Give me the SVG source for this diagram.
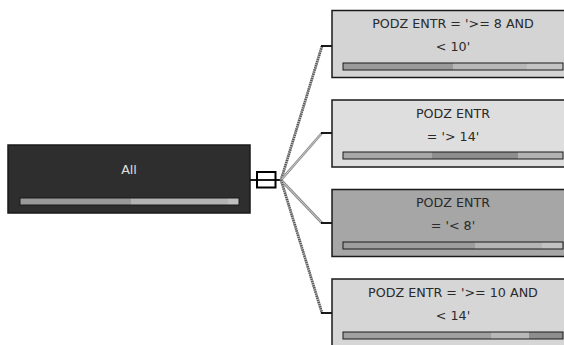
<svg xmlns="http://www.w3.org/2000/svg" width="564" height="345" viewBox="0 0 564 345">
<style>
.box{stroke:#1a1a1a;stroke-width:1.5}
.bar{stroke:#1a1a1a;stroke-width:1;fill:none}
.t{font-family:"DejaVu Sans","Liberation Sans",sans-serif;font-size:12.7px;text-anchor:middle;fill:#2a2a2a}
.hatch{fill:none;stroke:#555;stroke-width:2.6;stroke-dasharray:1.2 1}
.hatchbg{fill:none;stroke:#bbb;stroke-width:2.6}
.gray{fill:none;stroke:#8a8a8a;stroke-width:2.6}
.grayin{fill:none;stroke:#d0d0d0;stroke-width:1}
.stub{fill:none;stroke:#000;stroke-width:1.8}
</style>
<rect width="564" height="345" fill="#fff"/>
<g id="connectors">
<line x1="250" y1="180" x2="257" y2="180" class="stub"/>
<rect x="257" y="172" width="18.5" height="15.5" fill="#fff" stroke="#000" stroke-width="2"/>
<line x1="258" y1="180" x2="281" y2="180" class="stub" stroke-width="2.2"/>
<path d="M281,180 L322,46" class="hatchbg"/>
<path d="M281,180 L322,46" class="hatch"/>
<path d="M281,180 L322,133" class="gray"/>
<path d="M281,180 L322,133" class="grayin"/>
<path d="M281,180 L322,223" class="gray"/>
<path d="M281,180 L322,223" class="grayin"/>
<path d="M281,180 L322,313" class="hatchbg"/>
<path d="M281,180 L322,313" class="hatch"/>
<path d="M321,46 H333" class="stub"/>
<path d="M321,133 H333" class="stub"/>
<path d="M321,223 H333" class="stub"/>
<path d="M321,313 H333" class="stub"/>
</g>
<g id="root">
<rect x="8" y="145" width="242" height="68" fill="#2e2e2e" class="box"/>
<text x="129" y="174" class="t" style="fill:#e0e0e0">All</text>
<rect x="20" y="198" width="111" height="7" fill="#9a9a9a"/>
<rect x="131" y="198" width="97" height="7" fill="#b3b3b3"/>
<rect x="228" y="198" width="11" height="7" fill="#bfbfbf"/>
<rect x="20" y="198" width="219" height="7" class="bar"/>
</g>
<g id="n1">
<rect x="332" y="10.5" width="242" height="67" fill="#d4d4d4" class="box"/>
<text x="453" y="28" class="t">PODZ ENTR = '&gt;= 8 AND</text>
<text x="453" y="51" class="t">&lt; 10'</text>
<rect x="343" y="63" width="110" height="7" fill="#9a9a9a"/>
<rect x="453" y="63" width="74" height="7" fill="#b8b8b8"/>
<rect x="527" y="63" width="36" height="7" fill="#c4c4c4"/>
<rect x="343" y="63" width="220" height="7" class="bar"/>
</g>
<g id="n2">
<rect x="332" y="100" width="242" height="67" fill="#dedede" class="box"/>
<text x="453" y="117.5" class="t">PODZ ENTR</text>
<text x="453" y="140.5" class="t">= '&gt; 14'</text>
<rect x="343" y="152" width="89" height="7" fill="#a8a8a8"/>
<rect x="432" y="152" width="86" height="7" fill="#8e8e8e"/>
<rect x="518" y="152" width="45" height="7" fill="#b3b3b3"/>
<rect x="343" y="152" width="220" height="7" class="bar"/>
</g>
<g id="n3">
<rect x="332" y="189.5" width="242" height="67" fill="#a6a6a6" class="box"/>
<text x="453" y="207" class="t">PODZ ENTR</text>
<text x="453" y="230" class="t">= '&lt; 8'</text>
<rect x="343" y="242" width="132" height="7" fill="#9e9e9e"/>
<rect x="475" y="242" width="67" height="7" fill="#b5b5b5"/>
<rect x="542" y="242" width="21" height="7" fill="#c2c2c2"/>
<rect x="343" y="242" width="220" height="7" class="bar"/>
</g>
<g id="n4">
<rect x="332" y="279" width="242" height="67" fill="#d6d6d6" class="box"/>
<text x="453" y="296.5" class="t">PODZ ENTR = '&gt;= 10 AND</text>
<text x="453" y="319.5" class="t">&lt; 14'</text>
<rect x="343" y="332" width="148" height="7" fill="#a0a0a0"/>
<rect x="491" y="332" width="38" height="7" fill="#b8b8b8"/>
<rect x="529" y="332" width="34" height="7" fill="#8e8e8e"/>
<rect x="343" y="332" width="220" height="7" class="bar"/>
</g>
</svg>
